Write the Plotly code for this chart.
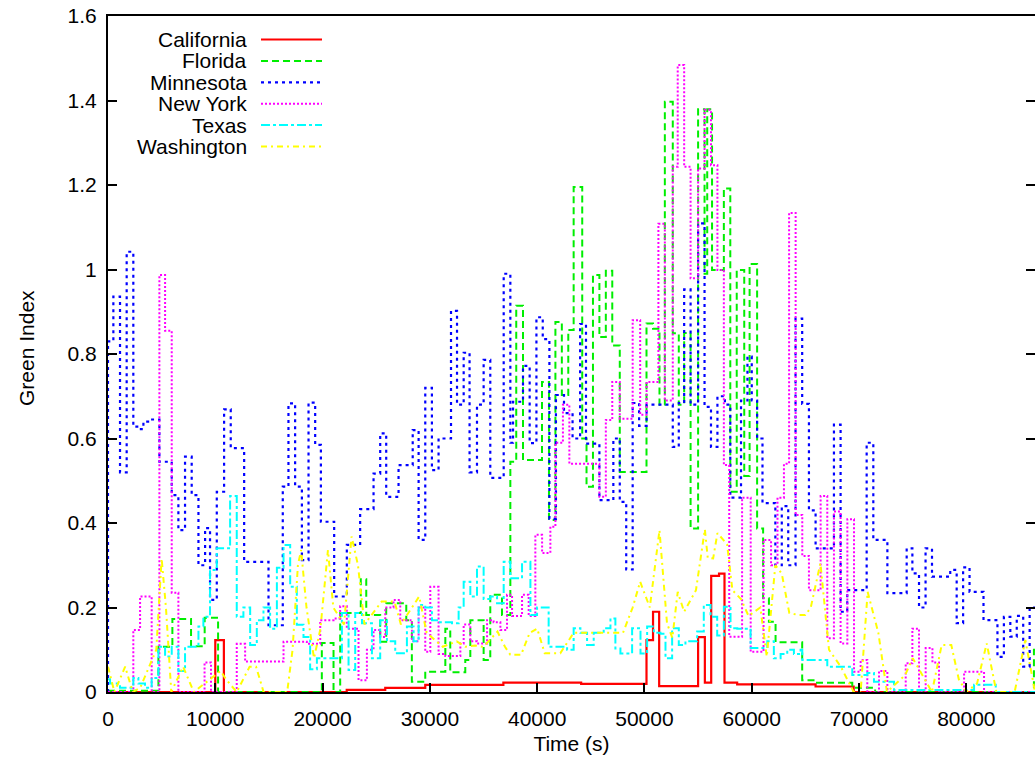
import plotly.graph_objects as go

# ---------------- data (step-change times in s, values) ----------------
ca_t = [0, 10000, 10800, 22250, 25840, 29570, 36850, 44100, 50190, 50800, 51370, 55000, 55630, 56220, 56950, 57460, 58640, 65950, 69500, 86400]
ca_v = [0, 0.123, 0, 0.005, 0.01, 0.017, 0.022, 0.019, 0.123, 0.19, 0.014, 0.13, 0.022, 0.275, 0.28, 0.022, 0.018, 0.013, 0, 0]

fl_t = [0, 4700, 6000, 7740, 9010, 10260, 19930, 21020, 21640, 23560, 24070, 25370, 25930, 27800, 28320, 29570,
        31440, 31900, 33300, 33770, 35010, 35630, 36720, 37500, 38050, 38680, 40450, 41100, 41700, 42300, 42900,
        43400, 44200, 44600, 45200, 45800, 46400, 47000, 47700, 50190, 50800, 51400, 51900, 52640, 53200, 53700,
        54300, 55000, 55600, 55850, 56300, 57400, 58000, 58600, 59300, 59800, 60500, 61060, 61600, 62220, 64700,
        65950, 69370, 71500, 86300, 86400]
fl_v = [0.003, 0.107, 0.173, 0.108, 0.176, 0.0, 0.116, 0.0, 0.187, 0.267, 0.182, 0.119, 0.21, 0.17, 0.024, 0.048,
        0.15, 0.047, 0.076, 0.17, 0.076, 0.23, 0.182, 0.545, 0.914, 0.549, 0.734, 0.407, 0.876, 0.703, 0.857,
        1.195, 0.6, 0.486, 0.987, 0.84, 0.997, 0.82, 0.521, 0.872, 0.86, 0.68, 1.397, 0.849, 0.68, 0.85,
        0.387, 1.379, 0.99, 1.379, 0.999, 1.192, 0.474, 0.999, 0.511, 1.013, 0.387, 0.222, 0.166, 0.118, 0.028,
        0.022, 0.01, 0.0, 0.1, 0.1]

mn_t = [0, 0, 500, 1120, 1740, 2360, 2900, 3300, 4000, 4790, 5940, 6560, 7180, 7800, 8430, 9050, 9510, 10140,
        10820, 11440, 12690, 14960, 16290, 16820, 17440, 18070, 18690, 19310, 19840, 21080, 22260, 23500, 24750,
        25370, 25930, 27080, 28400, 28950, 29570, 30190, 30810, 31970, 32530, 33150, 33700, 34390, 35010, 35630,
        36880, 37500, 37750, 38680, 39300, 39930, 40520, 41140, 41750, 42500, 43300, 44000, 44550, 45800, 47100,
        47700, 48300, 48900, 49500, 50200, 52640, 53200, 53700, 54300, 55000, 55600, 56200, 56800, 57500, 58000,
        59000, 59600, 60000, 60500, 61000, 62200, 62800, 63400, 64080, 64700, 65330, 65950, 67660, 68280, 68900,
        70710, 71330, 72640, 74440, 74970, 75590, 76200, 76800, 78500, 79100, 79700, 80300, 81600, 82900, 83500,
        84100, 84700, 85300, 85900, 86400]
mn_v = [0, 0.83, 0.936, 0.52, 1.042, 0.628, 0.622, 0.64, 0.645, 0.545, 0.466, 0.383, 0.557, 0.466, 0.30, 0.388,
        0.218, 0.474, 0.669, 0.577, 0.308, 0.158, 0.486, 0.683, 0.486, 0.312, 0.685, 0.585, 0.403, 0.226, 0.348,
        0.433, 0.517, 0.612, 0.462, 0.537, 0.62, 0.36, 0.72, 0.525, 0.6, 0.902, 0.68, 0.803, 0.52, 0.68, 0.786,
        0.507, 0.99, 0.59, 0.687, 0.772, 0.589, 0.887, 0.835, 0.41, 0.703, 0.66, 0.60, 0.871, 0.588, 0.454, 0.6,
        0.45, 0.29, 0.684, 0.63, 0.68, 0.58, 0.684, 0.953, 0.68, 1.109, 0.675, 0.58, 0.70, 0.68, 0.46, 0.69,
        0.794, 0.69, 0.6, 0.447, 0.3, 0.44, 0.3, 0.884, 0.682, 0.43, 0.34, 0.633, 0.19, 0.241, 0.59, 0.36, 0.234,
        0.34, 0.281, 0.2, 0.34, 0.273, 0.289, 0.163, 0.295, 0.237, 0.17, 0.083, 0.178, 0.131, 0.18, 0.06, 0.2, 0.2]

ny_t = [0, 2360, 2990, 4070, 4790, 5320, 5940, 6560, 9000, 9600, 12000, 12780, 16360, 18530, 19780, 21020,
        21640, 22260, 23350, 24130, 24750, 25370, 25840, 26610, 27240, 28330, 28950, 29570, 30040, 30810, 31440,
        32840, 33150, 33770, 34390, 35330, 35940, 36570, 37190, 37660, 38590, 39210, 39830, 40460, 41230, 41700,
        42400, 43000, 45800, 46400, 47000, 47700, 48900, 49600, 50200, 51300, 51900, 52640, 53100, 53700, 54300,
        55000, 55600, 56200, 56800, 57400, 57900, 59100, 59900, 61100, 61800, 62400, 63000, 63480, 64090, 64710,
        65330, 66420, 67040, 67660, 68280, 68910, 69530, 70150, 70770, 71860, 72640, 74350, 74970, 75590, 76210,
        76840, 77450, 79790, 81650, 86400]
ny_v = [0, 0.147, 0.226, 0, 0.987, 0.855, 0.235, 0, 0.07, 0, 0.114, 0.072, 0.119, 0.114, 0.17, 0.174,
        0.203, 0.15, 0.028, 0.1, 0.147, 0.13, 0.2, 0.218, 0.17, 0.12, 0.2, 0.095, 0.249, 0.09, 0.085,
        0.115, 0.16, 0.12, 0.115, 0.17, 0.165, 0.147, 0.23, 0.18, 0.23, 0.18, 0.372, 0.329, 0.391, 0.59,
        0.68, 0.54, 0.462, 0.644, 0.734, 0.647, 0.88, 0.656, 0.734, 1.108, 0.69, 1.243, 1.484, 1.243, 0.979,
        1.239, 1.378, 1.247, 0.999, 0.537, 0.131, 0.46, 0.095, 0.36, 0.3, 0.46, 0.54, 1.134, 0.419, 0.322,
        0.241, 0.464, 0.127, 0.427, 0.115, 0.409, 0.048, 0.076, 0.0, 0.05, 0.0, 0.068, 0.15, 0.0, 0.104,
        0.07, 0.0, 0.048, 0.0, 0.0]

tx_t = [0, 190, 1120, 2360, 2830, 3450, 4070, 4700, 5320, 5940, 6560, 7180, 8430, 8890, 9510, 10140, 11380,
        12000, 12620, 13250, 13870, 14490, 15110, 15740, 16360, 16980, 17600, 18220, 18840, 19470, 20090, 21800,
        22420, 23040, 23670, 24600, 25370, 26000, 26770, 27860, 28480, 28950, 29570, 30190, 30810, 32060, 32680,
        33150, 33770, 34390, 35010, 35630, 36260, 36880, 37500, 38590, 39370, 39990, 41070, 42790, 43400, 44030,
        44650, 45270, 46200, 46830, 47290, 47760, 48850, 49630, 50250, 50870, 51490, 51960, 52580, 53200, 53820,
        54910, 55530, 56160, 56780, 57400, 58020, 58650, 59890, 61450, 62060, 62690, 63310, 63930, 64550, 64710,
        67040, 69370, 70770, 71390, 73260, 80720, 82740, 86400]
tx_v = [0.03, 0.02, 0.01, 0.033, 0.02, 0.01, 0.033, 0.107, 0.084, 0.107, 0.05, 0.107, 0.155, 0.178, 0.289, 0.34,
        0.464, 0.178, 0.2, 0.111, 0.17, 0.2, 0.15, 0.294, 0.348, 0.249, 0.159, 0.13, 0.054, 0.08, 0.08, 0.187,
        0.052, 0.187, 0.163, 0.08, 0.17, 0.12, 0.092, 0.155, 0.12, 0.206, 0.2, 0.17, 0.165, 0.163, 0.2,
        0.261, 0.226, 0.297, 0.22, 0.226, 0.21, 0.308, 0.269, 0.308, 0.182, 0.2, 0.107, 0.1, 0.151, 0.14,
        0.111, 0.14, 0.151, 0.174, 0.103, 0.091, 0.151, 0.091, 0.155, 0.14, 0.138, 0.08, 0.151, 0.111, 0.12,
        0.143, 0.206, 0.178, 0.134, 0.202, 0.151, 0.15, 0.104, 0.12, 0.08, 0.09, 0.1, 0.09, 0.1, 0.076,
        0.06, 0.04, 0.045, 0.024, 0.005, 0.017, 0.0, 0.0]

wa_t = [0, 600, 1600, 2300, 3000, 4500, 5000, 5400, 5900, 7000, 8000, 10500, 11000, 12000, 13200, 13800, 14500,
        16700, 17200, 17700, 18000, 18500, 19200, 19800, 20500, 21000, 22000, 22700, 23300, 23900, 25500, 26700,
        27300, 29000, 29700, 31200, 32500, 33300, 34200, 35000, 36300, 37000, 37500, 38500, 39300, 40000, 40700,
        42160, 43400, 46000, 48000, 48900, 49600, 50500, 51400, 52100, 52600, 53100, 53700, 54800, 55630, 55900,
        56400, 56800, 57700, 58200, 59000, 59700, 60800, 61400, 62200, 62800, 63500, 64400, 65000, 65500, 66400,
        67200, 68300, 69500, 70150, 70800, 71800, 72600, 74300, 75000, 76800, 77700, 78600, 79300, 80000, 81000,
        81900, 82800, 84500, 85500, 86400]
wa_v = [0.06, 0.0, 0.06, 0.0, 0.01, 0.1, 0.316, 0.2, 0.0, 0.06, 0.0, 0.05, 0.03, 0.0, 0.06, 0.06, 0.0,
        0.0, 0.1, 0.3, 0.336, 0.2, 0.08, 0.15, 0.336, 0.2, 0.16, 0.368, 0.3, 0.16, 0.214, 0.214,
        0.16, 0.226, 0.14, 0.107, 0.12, 0.107, 0.11, 0.107, 0.143, 0.107, 0.088, 0.088, 0.14, 0.15, 0.092,
        0.092, 0.14, 0.14, 0.14, 0.2, 0.261, 0.2, 0.383, 0.163, 0.128, 0.237, 0.19, 0.241, 0.385, 0.317,
        0.316, 0.376, 0.35, 0.241, 0.22, 0.18, 0.2, 0.084, 0.3, 0.28, 0.187, 0.182, 0.182, 0.2, 0.305,
        0.1, 0.06, 0.0, 0.0, 0.237, 0.14, 0.0, 0.04, 0.08, 0.0, 0.111, 0.111, 0.03, 0.0, 0.02,
        0.115, 0.0, 0.0, 0.123, 0.0]

x_ticks = [0, 10000, 20000, 30000, 40000, 50000, 60000, 70000, 80000]
y_ticks = [0, 0.2, 0.4, 0.6, 0.8, 1.0, 1.2, 1.4, 1.6]
y_tick_text = ["0", "0.2", "0.4", "0.6", "0.8", "1", "1.2", "1.4", "1.6"]

series = [
    ("California", ca_t, ca_v, "#ff0000", "solid", "hv", 2.2),
    ("Florida", fl_t, fl_v, "#00ee00", "7px,4px", "hv", 2.0),
    ("Minnesota", mn_t, mn_v, "#0000ff", "3px,4px", "hv", 2.2),
    ("New York", ny_t, ny_v, "#ff00ff", "2px,2px", "hv", 2.0),
    ("Texas", tx_t, tx_v, "#00ffff", "9px,3px,3px,3px", "hv", 2.0),
    ("Washington", wa_t, wa_v, "#ffff00", "6px,4px,2px,4px", "linear", 2.0),
]

# ---------------- figure ----------------
W, H = 1035, 758
L, R, T, B = 108, 0, 16, 66
pw, ph = W - L - R, H - T - B

fig = go.Figure()
for name, t, v, col, dash, shape, lw in series:
    fig.add_trace(go.Scatter(x=t, y=v, mode="lines", name=name, showlegend=False,
                             line=dict(color=col, dash=dash, shape=shape, width=lw)))

# invisible trace for right-side mirrored ticks
fig.add_trace(go.Scatter(x=[0], y=[0], yaxis="y2", mode="markers", marker=dict(opacity=0),
                         showlegend=False, hoverinfo="skip"))

FONT = "Liberation Sans, Arial, sans-serif"


def px2x(px):
    return (px - L) / pw


def px2y(py):
    return (H - B - py) / ph


# gnuplot-style key: text right-aligned, sample line to its right
for i, (name, t, v, col, dash, shape, lw) in enumerate(series):
    yy = px2y(39.5 + 21.4 * i)
    fig.add_annotation(x=px2x(249), y=yy, xref="paper", yref="paper", text=name, showarrow=False,
                       xanchor="right", yanchor="middle", font=dict(family=FONT, size=21, color="black"))
    fig.add_shape(type="line", xref="paper", yref="paper", x0=px2x(261), x1=px2x(322), y0=yy, y1=yy,
                  line=dict(color=col, dash=dash, width=lw))

fig.add_annotation(x=px2x(27), y=px2y(348), xref="paper", yref="paper", text="Green Index", textangle=-90,
                   showarrow=False, xanchor="center", yanchor="middle",
                   font=dict(family=FONT, size=21, color="black"))

fig.update_layout(
    width=W, height=H, margin=dict(l=L, r=R, t=T, b=B, autoexpand=False),
    paper_bgcolor="white", plot_bgcolor="white",
    font=dict(family=FONT, size=21, color="black"),
    xaxis=dict(range=[0, 86400], tickvals=x_ticks, ticktext=[str(x) for x in x_ticks],
               ticks="inside", ticklen=9, tickcolor="black", tickwidth=1.5,
               showline=True, linecolor="black", linewidth=2, mirror=True,
               showgrid=False, zeroline=False, ticklabelstandoff=7,
               tickfont=dict(family=FONT, size=21),
               title=dict(text="Time (s)", standoff=7, font=dict(family=FONT, size=21))),
    yaxis=dict(range=[0, 1.6], tickvals=y_ticks, ticktext=y_tick_text,
               ticks="inside", ticklen=9, tickcolor="black", tickwidth=1.5,
               showline=True, linecolor="black", linewidth=2, mirror=False,
               showgrid=False, zeroline=False, ticklabelstandoff=5,
               tickfont=dict(family=FONT, size=21)),
    yaxis2=dict(range=[0, 1.6], overlaying="y", side="right", tickvals=y_ticks, ticks="inside",
                ticklen=9, tickcolor="black", tickwidth=1.5, showticklabels=False,
                showline=False, showgrid=False, zeroline=False),
)

fig.write_html("out.html", config={"displayModeBar": False},
               post_script="document.body.style.margin='0';document.body.style.overflow='hidden';")
